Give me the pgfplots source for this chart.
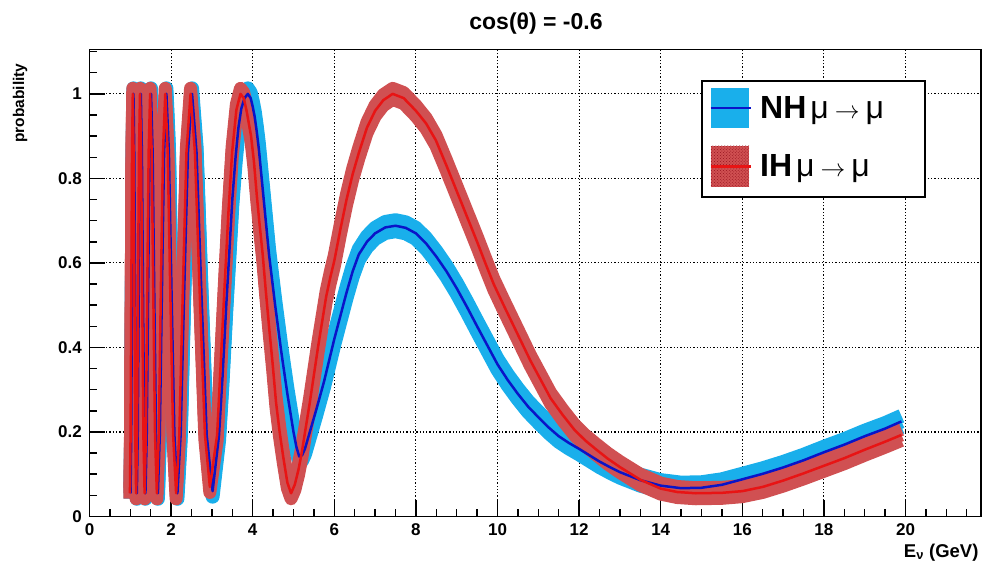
\documentclass[border=0pt]{standalone}
\usepackage{fontspec}
\setmainfont{Liberation Sans}
\usepackage{pgfplots}
\usepackage{pgfplotstable}
\pgfplotsset{compat=1.18}
\usetikzlibrary{patterns}
\definecolor{nhband}{RGB}{25,175,235}
\definecolor{nhline}{RGB}{10,20,200}
\definecolor{ihband}{RGB}{208,80,82}
\definecolor{ihline}{RGB}{232,20,20}
\definecolor{ihdot}{RGB}{150,20,30}

\pgfplotstableread{
E P
1.006 0.055
1.022 0.193
1.040 0.528
1.059 0.862
1.077 1.0
1.097 0.862
1.118 0.528
1.138 0.193
1.160 0.055
1.182 0.193
1.207 0.528
1.231 0.862
1.257 1.0
1.284 0.862
1.311 0.528
1.341 0.193
1.371 0.055
1.403 0.193
1.436 0.528
1.472 0.862
1.508 1.0
1.547 0.862
1.587 0.528
1.630 0.193
1.676 0.055
1.723 0.193
1.774 0.528
1.828 0.862
1.885 1.0
1.946 0.862
2.011 0.528
2.081 0.193
2.155 0.055
2.234 0.193
2.320 0.528
2.413 0.862
2.514 1.0
2.623 0.862
2.743 0.528
2.872 0.193
3.017 0.06
3.175 0.193
3.26 0.33
3.352 0.50
3.43 0.63
3.50 0.75
3.58 0.85
3.65 0.92
3.72 0.965
3.80 0.99
3.88 1.0
3.95 0.99
4.00 0.97
4.05 0.945
4.10 0.91
4.15 0.87
4.20 0.82
4.25 0.77
4.30 0.72
4.35 0.67
4.40 0.62
4.475 0.56
4.55 0.50
4.625 0.445
4.70 0.39
4.775 0.34
4.85 0.29
4.925 0.245
5.00 0.20
5.07 0.165
5.14 0.142
5.21 0.145
5.28 0.16
5.40 0.20
5.55 0.25
5.65 0.285
5.75 0.32
5.875 0.37
6.00 0.42
6.15 0.475
6.30 0.53
6.45 0.58
6.60 0.62
6.80 0.65
7.00 0.67
7.25 0.684
7.50 0.688
7.75 0.683
8.00 0.67
8.25 0.646
8.50 0.615
8.75 0.58
9.00 0.54
9.25 0.496
9.50 0.45
9.75 0.405
10.0 0.36
10.25 0.323
10.5 0.29
10.75 0.26
11.0 0.235
11.25 0.211
11.5 0.19
11.75 0.174
12.0 0.16
12.25 0.145
12.5 0.13
12.75 0.117
13.0 0.105
13.5 0.086
14.0 0.073
14.5 0.067
15.0 0.068
15.5 0.075
16.0 0.088
16.5 0.101
17.0 0.116
17.5 0.133
18.0 0.152
18.5 0.17
19.0 0.19
19.5 0.208
19.9 0.225
}\nhdata

\pgfplotstableread{
E P
0.991 0.055
1.007 0.193
1.025 0.528
1.043 0.862
1.061 1.0
1.081 0.862
1.101 0.528
1.121 0.193
1.143 0.055
1.165 0.193
1.189 0.528
1.213 0.862
1.238 1.0
1.265 0.862
1.292 0.528
1.321 0.193
1.351 0.055
1.382 0.193
1.415 0.528
1.450 0.862
1.486 1.0
1.524 0.862
1.564 0.528
1.606 0.193
1.651 0.055
1.698 0.193
1.748 0.528
1.801 0.862
1.857 1.0
1.917 0.862
1.981 0.528
2.050 0.193
2.123 0.055
2.201 0.193
2.286 0.528
2.377 0.862
2.477 1.0
2.584 0.862
2.702 0.528
2.830 0.193
2.950 0.07
3.128 0.193
3.302 0.528
3.40 0.711
3.496 0.862
3.60 0.962
3.70 1.0
3.78 0.99
3.85 0.96
3.96 0.90
4.03 0.84
4.10 0.76
4.17 0.69
4.245 0.62
4.32 0.535
4.40 0.45
4.49 0.36
4.572 0.27
4.66 0.20
4.75 0.14
4.85 0.08
4.94 0.055
5.03 0.075
5.12 0.11
5.20 0.15
5.30 0.21
5.40 0.27
5.50 0.335
5.60 0.40
5.70 0.46
5.80 0.52
5.90 0.565
6.00 0.605
6.15 0.68
6.30 0.75
6.45 0.81
6.60 0.86
6.80 0.92
7.00 0.96
7.20 0.985
7.43 1.0
7.70 0.99
8.00 0.96
8.25 0.93
8.49 0.89
8.75 0.83
9.00 0.77
9.25 0.71
9.50 0.65
9.70 0.60
9.906 0.55
10.15 0.50
10.4 0.45
10.6 0.41
10.8 0.37
11.05 0.325
11.3 0.28
11.6 0.24
11.887 0.205
12.15 0.18
12.4 0.16
12.7 0.137
13.0 0.117
13.5 0.087
14.0 0.066
14.4 0.058
14.86 0.055
15.5 0.056
16.0 0.06
16.5 0.07
17.0 0.085
17.5 0.102
18.0 0.12
18.5 0.138
19.0 0.158
19.5 0.177
19.9 0.193
}\ihdata

\begin{document}
\begin{tikzpicture}
\useasboundingbox (-89.5bp,-48.5bp) rectangle (896.5bp,516.5bp);
\begin{axis}[
  at={(0,0)}, anchor=south west,
  scale only axis, width=891.5bp, height=467bp,
  xmin=0, xmax=21.85, ymin=0, ymax=1.105,
  xtick={0,2,...,20}, ytick={0,0.2,0.4,0.6,0.8,1},
  minor xtick={0.5,1,1.5,2.5,3,3.5,4.5,5,5.5,6.5,7,7.5,8.5,9,9.5,10.5,11,11.5,12.5,13,13.5,14.5,15,15.5,16.5,17,17.5,18.5,19,19.5,20.5,21,21.5},
  minor ytick={0.05,0.1,0.15,0.25,0.3,0.35,0.45,0.5,0.55,0.65,0.7,0.75,0.85,0.9,0.95,1.05,1.1},
  xtick pos=bottom, ytick pos=left, tick align=inside,
  major tick length=16bp, minor tick length=8bp,
  every tick/.style={draw=black, line width=1.5bp},
  axis line style={black, line width=1.6bp},
  xmajorgrids, ymajorgrids,
  major grid style={black, line width=1.1bp, dash pattern=on 1.3bp off 2bp},
  /pgf/number format/assume math mode=true,
  tick label style={font=\fontsize{17bp}{17bp}\selectfont\bfseries},
  yticklabel style={inner sep=0pt, xshift=-7.5bp},
  xticklabel style={inner sep=0pt, yshift=-7bp},
]
% NH band
\addplot[nhband, line width=14bp, line join=round, yshift=5.5bp] table[x=E,y=P] {\nhdata};
\addplot[nhband, line width=14bp, line join=round] table[x=E,y=P] {\nhdata};
\addplot[nhband, line width=14bp, line join=round, yshift=-5.5bp] table[x=E,y=P] {\nhdata};
% IH band
\addplot[ihband, line width=13bp, line join=round, yshift=5.5bp] table[x=E,y=P] {\ihdata};
\addplot[ihband, line width=13bp, line join=round] table[x=E,y=P] {\ihdata};
\addplot[ihband, line width=13bp, line join=round, yshift=-5.5bp] table[x=E,y=P] {\ihdata};
% central lines
\addplot[nhline, line width=2.5bp, line join=round] table[x=E,y=P] {\nhdata};
\addplot[ihline, line width=2.5bp, line join=round] table[x=E,y=P] {\ihdata};
\end{axis}
% legend
\draw[black, line width=1.6bp, fill=white] (612.5bp,319.5bp) rectangle (835.5bp,435.5bp);
\fill[nhband] (621.2bp,388.5bp) rectangle (659.8bp,428.5bp);
\draw[nhline, line width=2.5bp] (621.2bp,408.5bp) -- (661bp,408.5bp);
\fill[ihband] (621.2bp,329.5bp) rectangle (659.8bp,370.5bp);
\fill[pattern=crosshatch dots, pattern color=ihdot] (621.2bp,329.5bp) rectangle (659.8bp,370.5bp);
\draw[ihline, line width=2.5bp] (621.2bp,350bp) -- (661bp,350bp);
\node[anchor=base west, inner sep=0pt, font=\fontsize{32bp}{32bp}\selectfont] at (670.5bp,398.2bp) {\textbf{NH}\hspace{4bp}μ\hspace{6bp}$\rightarrow$\hspace{6bp}μ};
\node[anchor=base west, inner sep=0pt, font=\fontsize{32bp}{32bp}\selectfont] at (670.5bp,339.8bp) {\textbf{IH}\hspace{4bp}μ\hspace{6bp}$\rightarrow$\hspace{6bp}μ};
% titles
\node[anchor=base, font=\fontsize{23bp}{23bp}\selectfont\bfseries] at (446.5bp,486.5bp) {cos(θ) = -0.6};
\node[rotate=90, anchor=east, font=\fontsize{15.5bp}{15.5bp}\selectfont\bfseries] at (-69.5bp,456.5bp) {probability};
\node[anchor=base east, font=\fontsize{18.5bp}{18.5bp}\selectfont\bfseries] at (892.5bp,-40.5bp) {E\textsubscript{ν} (GeV)};
\end{tikzpicture}
\end{document}
